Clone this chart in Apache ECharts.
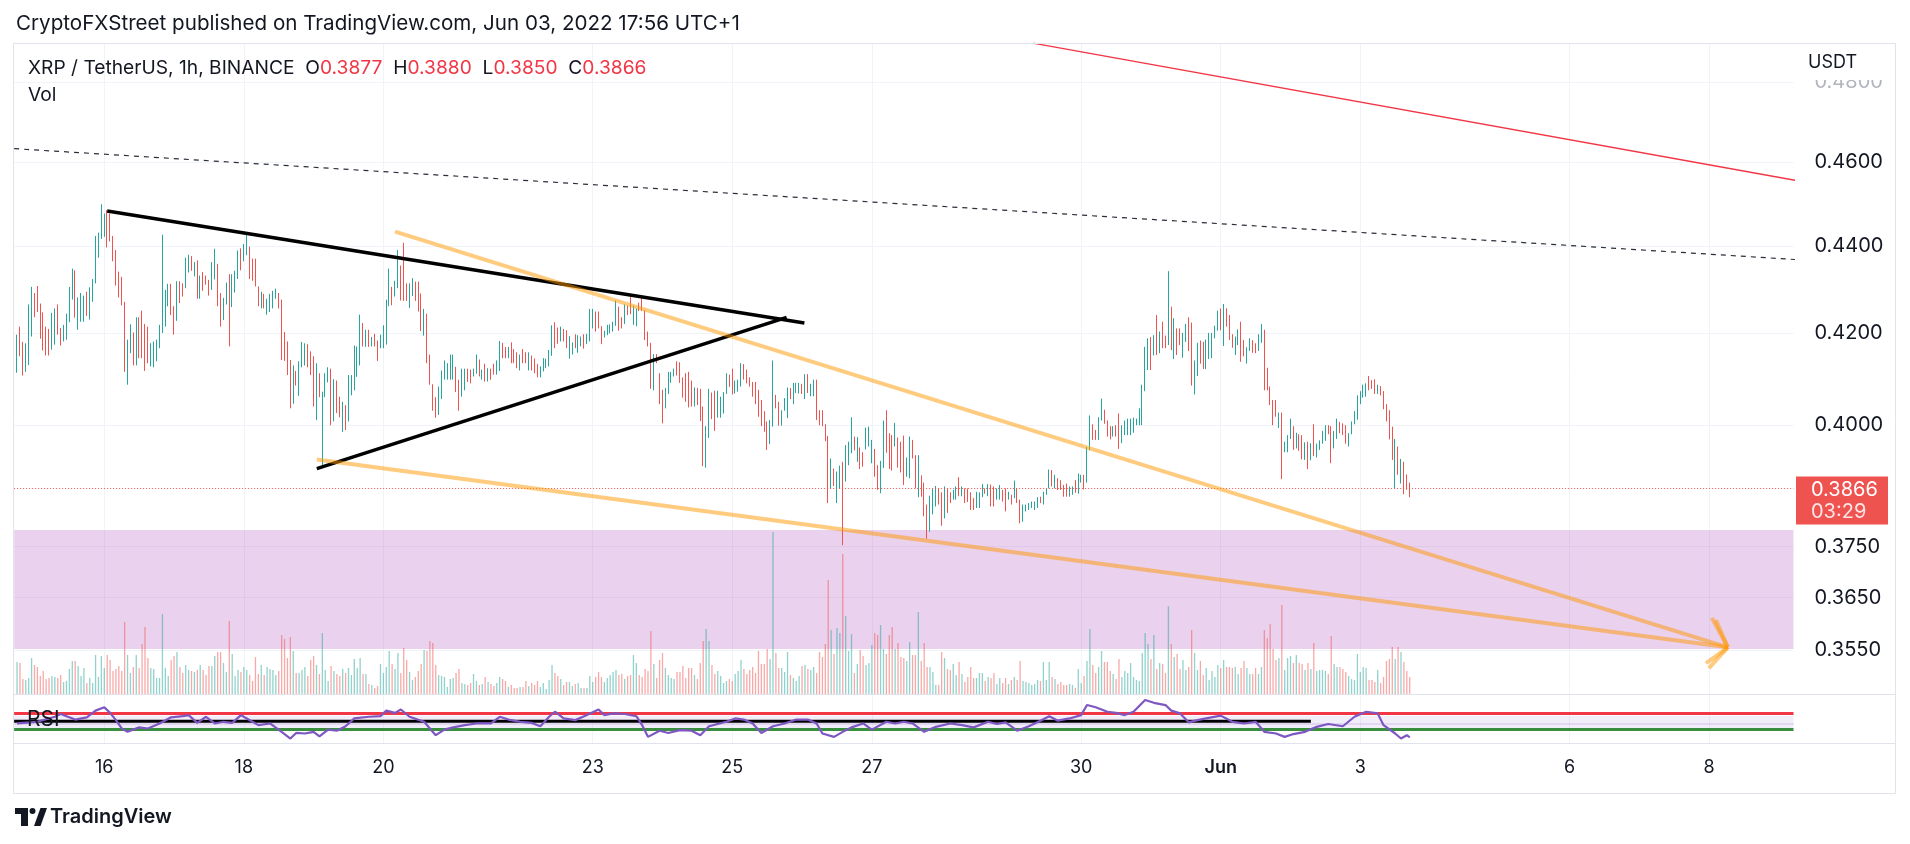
<!DOCTYPE html>
<html>
<head>
<meta charset="utf-8">
<title>XRP / TetherUS, 1h, BINANCE</title>
<script src="https://cdn.jsdelivr.net/npm/echarts@6.0.0/dist/echarts.min.js"></script>
<style>
  html, body { margin: 0; padding: 0; background: #ffffff; }
  #chart { width: 1910px; height: 844px; }
</style>
</head>
<body>
<div id="chart"></div>
<script>
// ---- data ----
// hourly bars (UTC+1), price in 1e-4 USDT as [open, close]; at this zoom a bar is one line open..close
// 2022-05-14 18:00 .. 05-20 06:00
const barsMay14to20 = [
  [4113,4197],[4215,4149],[4181,4107],[4115,4178],[4130,4265],[4193,4305],[4291,4236],[4307,4248],[4267,4188],[4247,4162],
  [4215,4151],[4210,4151],[4164,4246],[4175,4256],[4265,4197],[4212,4173],[4182,4219],[4186,4244],[4225,4305],[4276,4347],
  [4343,4235],[4208,4281],[4226,4291],[4226,4285],[4294,4239],[4231,4304],[4271,4323],[4313,4423],[4372,4431],[4416,4498],
  [4421,4476],[4484,4396],[4476,4410],[4423,4364],[4390,4308],[4340,4281],[4328,4263],[4271,4115],[4087,4186],[4156,4220],
  [4202,4129],[4129,4236],[4236,4145],[4251,4145],[4221,4117],[4215,4134],[4127,4178],[4125,4182],[4138,4186],[4167,4219],
  [4201,4426],[4215,4298],[4261,4312],[4312,4241],[4261,4197],[4228,4318],[4318,4268],[4313,4283],[4302,4372],[4338,4379],
  [4376,4342],[4329,4362],[4366,4278],[4278,4331],[4339,4296],[4331,4310],[4321,4285],[4298,4362],[4322,4393],[4358,4261],
  [4291,4215],[4230,4280],[4265,4315],[4334,4171],[4259,4334],[4292,4342],[4323,4389],[4394,4343],[4364,4404],[4378,4429],
  [4398,4323],[4370,4319],[4370,4306],[4306,4261],[4256,4294],[4289,4256],[4242,4278],[4248,4289],[4256,4296],[4278,4301],
  [4291,4256],[4276,4141],[4203,4139],[4182,4108],[4141,4036],[4046,4129],[4117,4085],[4063,4138],[4125,4181],[4129,4178],
  [4176,4125],[4160,4108],[4149,4040],[4011,4134],[4112,4060],[3912,4072],[4060,4112],[4092,4125],[4122,4000],[4008,4099],
  [4096,4026],[4061,4017],[3986,4050],[4043,3990],[4008,4108],[4064,4108],[4075,4173],[4104,4171],[4129,4242],[4223,4171],
  [4170,4208],[4208,4170],[4171,4192],[4199,4171],[4184,4139],[4167,4197],[4167,4218],[4175,4276],[4261,4347],[4305,4263],
  [4283,4319],[4302,4390],[4354,4274]
];
// 05-20 07:00 .. 05-26 05:00
const barsMay20to26 = [
  [4407,4273],[4313,4273],[4257,4313],[4284,4325],[4317,4273],[4317,4249],[4290,4205],[4195,4255],[4244,4134],[4153,4087],
  [4088,4031],[4060,4016],[4022,4083],[4056,4118],[4098,4140],[4098,4134],[4098,4153],[4098,4153],[4126,4071],[4098,4031],
  [4061,4122],[4075,4122],[4122,4093],[4120,4090],[4105,4122],[4111,4153],[4142,4105],[4098,4120],[4133,4094],[4094,4123],
  [4122,4098],[4133,4109],[4109,4140],[4117,4183],[4179,4145],[4170,4145],[4145,4170],[4180,4134],[4165,4134],[4158,4123],
  [4118,4153],[4165,4134],[4158,4134],[4118,4158],[4151,4118],[4144,4112],[4132,4103],[4103,4127],[4116,4145],[4123,4144],
  [4127,4163],[4150,4218],[4225,4167],[4213,4177],[4182,4215],[4210,4182],[4207,4167],[4144,4194],[4153,4180],[4198,4167],
  [4157,4196],[4171,4193],[4198,4166],[4176,4199],[4182,4255],[4211,4255],[4249,4204],[4249,4211],[4216,4176],[4191,4206],
  [4196,4219],[4200,4220],[4204,4226],[4217,4274],[4260,4206],[4236,4211],[4221,4265],[4262,4241],[4286,4243],[4219,4262],
  [4216,4256],[4269,4250],[4285,4250],[4252,4185],[4204,4171],[4179,4078],[4075,4154],[4154,4134],[4112,4045],[4076,4004],
  [4036,4080],[4067,4115],[4091,4115],[4105,4122],[4138,4107],[4136,4091],[4103,4059],[4112,4050],[4115,4038],[4096,4040],
  [4040,4081],[4080,4043],[4078,4009],[4040,3914],[3911,3998],[3973,4078],[4070,4013],[4074,3988],[4016,4074],[4016,4061],
  [4025,4071],[4067,4112],[4109,4082],[4122,4066],[4068,4096],[4072,4098],[4083,4134],[4132,4098],[4120,4090],[4103,4083],
  [4093,4061],[4093,4045],[4076,4018],[4054,3998],[4030,3986],[4008,3948],[3960,4011],[3997,4140],[4065,4036],[4050,3999],
  [3999,4032],[4031,4058],[4015,4081],[4080,4056],[4045,4091],[4069,4091],[4068,4091],[4089,4067],[4056,4110],[4110,4069],
  [4062,4089],[4062,4098],[4098,4011]
];
// 05-26 06:00 .. 05-31 09:00
const barsMay26to31 = [
  [4032,4000],[4032,3998],[4002,3966],[3977,3838],[3868,3930],[3909,3873],[3838,3903],[3868,3915],[3923,3753],[3882,3958],
  [3916,3965],[3941,4017],[3976,3947],[3923,3975],[3953,3908],[3943,3913],[3949,3995],[3955,3997],[3920,3969],[3950,3892],
  [3916,3865],[3858,3925],[3910,4010],[4032,3942],[3983,3908],[3979,3905],[3955,4005],[3974,3911],[3965,3901],[3978,3875],
  [3892,3932],[3889,3976],[3969,3930],[3937,3868],[3850,3937],[3895,3851],[3880,3811],[3835,3766],[3780,3853],[3815,3868],
  [3831,3873],[3868,3835],[3860,3792],[3807,3872],[3868,3818],[3860,3838],[3845,3865],[3845,3872],[3891,3852],[3852,3872],
  [3868,3838],[3868,3840],[3860,3824],[3848,3824],[3828,3861],[3828,3860],[3850,3877],[3868,3857],[3852,3877],[3876,3831],
  [3872,3831],[3845,3868],[3845,3875],[3865,3841],[3868,3821],[3845,3861],[3855,3835],[3848,3884],[3868,3838],
  [3845,3797],[3800,3835],[3821,3835],[3824,3838],[3828,3841],[3824,3841],[3828,3850],[3851,3838],[3835,3861],[3855,3868],
  [3868,3907],[3906,3872],[3868,3896],[3889,3865],[3885,3865],[3875,3851],[3878,3851],[3851,3872],[3855,3872],[3885,3859],
  [3857,3899],[3880,3896],[3896,3866],[3880,3954],[3947,4021],[4002,3969],[3990,3969],[3969,4017],[4010,4057],[4033,4003],
  [4010,3976],[3998,3970],[3976,3998],[4000,3976],[4025,3950],[3962,4000],[3979,4010],[3979,4014],[3979,4014],[3984,4016],
  [4000,4014],[4000,4036],[4000,4087],[4073,4170],[4119,4189],[4192,4119],[4151,4196],[4241,4152],[4156,4204],[4226,4167],
  [4195,4167],[4174,4341],[4260,4163],[4143,4234],[4211,4152]
];
// 05-31 10:00 .. 06-03 16:00
const barsMay31toJun3 = [
  [4211,4174],[4146,4201],[4181,4221],[4236,4161],[4224,4085],[4066,4140],[4106,4179],[4184,4133],[4181,4121],[4121,4186],
  [4143,4201],[4145,4201],[4189,4217],[4206,4251],[4256,4207],[4172,4266],[4256,4215],[4241,4185],[4198,4168],[4152,4193],
  [4174,4209],[4226,4137],[4185,4149],[4133,4169],[4161,4189],[4185,4157],[4178,4156],[4161,4198],[4179,4221],[4208,4075],
  [4124,4075],[4083,4043],[4054,4000],[4054,4018],[3994,4027],[4027,3887],[3943,3965],[3943,3979],[3971,4014],[3998,3948],
  [3951,3984],[3981,3946],[3979,3928],[3927,3964],[3965,3908],[3926,3962],[4002,3935],[3932,3961],[3948,3968],[3961,3988],
  [3967,4000],[4000,3981],[3998,3920],[3951,3988],[3971,4014],[4007,3983],[4004,3979],[4000,3961],[3955,3983],[3981,4008],
  [4002,4030],[4012,4064],[4045,4073],[4059,4087],[4061,4090],[4106,4075],[4097,4078],[4099,4067],[4067,4087],[4084,4064],
  [4073,4034],[4045,4008],[4032,3970],[3997,3927],[3868,3971],[3955,3896],[3878,3929],[3923,3856],[3897,3865]
];
// 06-03 17:00, the live bar: open, close, low, high
const lastBar = [0.3877, 0.3866, 0.3850, 0.3880];

// hourly volume, millions of XRP, same bars
const volMay14to24 = [
  32,31,15,14,16,36,29,27,18,23, 15,16,18,17,16,19,12,13,25,33, 33,28,18,26,11,16,11,39,17,38,
  26,39,34,23,25,28,23,72,39,21, 27,39,26,50,67,36,26,25,16,16, 80,26,18,34,38,42,27,21,29,24,
  23,22,24,29,24,19,28,28,38,42, 42,31,22,73,40,18,24,22,27,24, 19,13,37,20,29,19,27,25,24,19,
  23,59,55,36,57,43,21,21,24,27, 18,34,38,29,20,61,24,13,28,23, 20,18,25,21,26,19,35,26,36,20,
  20,10,9,6,8,30,21,27,43,30, 25,41,21,46,34,22,14,17,23,30, 44,43,53,51,29,19,18,17,7,15,
  16,21,25,11,10,9,11,20,13,9, 10,17,12,10,8,11,17,15,13,7, 9,6,6,7,7,13,8,11,9,13,
  7,11,5,14,29,21,18,15,9,12, 12,8,10,11,6,6,6,18,12,17, 22,17,12,16,19,22,24,19,20,15,
  18,19,39,31,19,17,25,23,63,30, 16,34,41,26,19,16,15,22,22,28, 16,26,26,19,15,31,53,65,53,29,
  20,23
];
const volMay24toJun3 = [
  18,11,13,15,13,20,23,34,25,20, 24,27,21,43,30,30,45,35,162,41, 26,26,22,42,19,16,13,18,28,29,
  25,24,27,21,42,37,50,114,64,40, 66,61,140,78,43,60,21,30,44,38, 29,31,49,61,59,69,45,40,59,67,
  45,51,37,36,33,52,39,39,82,33, 51,27,27,22,9,9,42,36,25,24, 30,19,32,20,12,17,27,16,16,21,
  21,13,17,16,21,10,16,11,16,10, 14,17,14,33,13,12,11,9,10,14, 13,32,14,32,17,15,10,12,9,9,
  10,9,6,25,11,18,33,65,29,21, 27,43,32,32,23,20,15,35,17,23, 21,31,17,14,13,41,61,50,35,59,
  25,31,30,21,88,50,37,40,25,34, 24,27,64,41,24,33,19,26,14,23, 17,29,26,34,27,27,26,27,20,26,
  33,26,20,20,26,20,27,64,56,70, 45,34,36,89,24,36,38,31,39,31, 30,24,31,25,51,23,24,24,23,20,
  58,30,27,27,25,22,18,15,14,40, 22,27,26,14,14,12,24,11,17,33, 35,47,35,47,42,32,23,17
];

// RSI points as [hour slot, value]
const rsiPoints = [
  [1,46],[8,49],[14,58],[16,63],[18,59],[21,53],[25,57],[28,69],[31,75],[33,65],[35,52],[37,37],[39,31],[43,39],
  [46,37],[50,46],[54,57],[58,59],[60,61],[63,47],[66,58],[69,46],[72,49],[75,47],[78,61],[80,55],[84,43],[88,46],
  [92,31],[95,19],[97,29],[100,28],[103,31],[105,23],[108,35],[111,33],[114,41],[117,55],[122,58],[126,59],[128,69],
  [131,65],[133,71],[136,58],[141,49],[145,25],[148,35],[151,39],[155,43],[159,46],[164,46],[167,58],[170,53],[174,49],
  [178,47],[181,41],[184,58],[186,67],[189,55],[193,52],[197,61],[201,71],[203,61],[206,64],[210,63],[214,59],[216,43],
  [218,22],[222,33],[225,29],[229,34],[233,33],[236,25],[239,41],[245,49],[248,55],[251,53],[254,46],[257,29],[261,41],
  [265,46],[269,53],[273,53],[276,46],[278,28],[282,22],[285,31],[288,39],[292,46],[295,35],[300,49],[303,46],[306,49],
  [309,46],[313,31],[317,40],[322,46],[326,43],[330,39],[335,49],[338,45],[341,48],[345,33],[349,41],[353,51],[356,59],
  [359,51],[363,55],[367,61],[369,79],[372,75],[376,67],[379,65],[382,61],[385,67],[389,88],[392,83],[396,79],[398,69],
  [401,64],[404,48],[407,52],[410,55],[415,60],[419,49],[423,46],[427,49],[430,31],[434,28],[437,22],[440,27],[444,31],
  [448,40],[452,45],[457,41],[461,58],[465,67],[469,64],[471,43],[475,28],[477,19],[479,25],[480,21]
];
const rsiUpperLine = 64, rsiLowerLine = 35, rsiMidLine = 46, rsiBand = [35, 60];
const rsiBlackSeg = [[0, 50], [446, 50]];

// drawings, [hour slot, price]
const redTrend = [[350.4, 0.4900], [612.5, 0.4556]];
const dashTrend = [[0, 0.4633], [612.5, 0.4368]];
const triUpper = [[32.0, 0.4482], [271.8, 0.4223]];
const triLower = [[104.1, 0.3909], [265.7, 0.4236]];
const wedgeUpper = [[131.0, 0.4433], [589.4, 0.3555]];
const wedgeLower = [[104.1, 0.3928], [589.4, 0.3555]];
const arrowWings = [
  [[583.9, 0.3611], [589.4, 0.3555]],
  [[585.3, 0.3607], [589.4, 0.3555]],
  [[581.9, 0.3525], [589.4, 0.3555]],
  [[582.9, 0.3516], [589.4, 0.3555]]
];
const zone = [0.37835, 0.35517];
const lastPrice = 0.3866, countdown = '03:29';

// axes
const priceTicks = [0.48, 0.46, 0.44, 0.42, 0.40, 0.375, 0.365, 0.355];
const priceRange = [0.34679, 0.49003];
const tickDates = ['2022-05-16','2022-05-18','2022-05-20','2022-05-23','2022-05-25','2022-05-27',
                   '2022-05-30','2022-06-01','2022-06-03','2022-06-06','2022-06-08'];
const tickLabels = ['16','18','20','23','25','27','30','Jun','3','6','8'];

// ---- chart ----
const FONT = 'Inter, "Noto Sans", Roboto, sans-serif';
const INK = '#131722';
const L = Math.log;
const SLOTS = 613;
const PLOT_L = 14.15, PLOT_R = 116.5;

const t0 = Date.UTC(2022, 4, 14, 17);
const categories = Array.from({ length: SLOTS }, (_, i) =>
  new Date(t0 + i * 3600e3).toISOString().slice(0, 16).replace('T', ' '));
const tickMap = {};
tickDates.forEach((d, i) => { tickMap[d + ' 00:00'] = tickLabels[i]; });
const isTick = (i, v) => tickMap[v] !== undefined;

const ohlc = [].concat(barsMay14to20, barsMay20to26, barsMay26to31, barsMay31toJun3)
  .map(([o, c]) => [o / 1e4, c / 1e4, Math.min(o, c) / 1e4, Math.max(o, c) / 1e4])
  .concat([lastBar]);
const candleData = ['-'].concat(ohlc.map(b => b.map(L)));
const vols = volMay14to24.concat(volMay24toJun3);
const volData = ['-'].concat(vols.map((v, i) => ({
  value: v,
  itemStyle: { color: ohlc[i][1] >= ohlc[i][0] ? 'rgba(38,166,154,0.5)' : 'rgba(239,83,80,0.5)' }
})));

const drawLine = (pts, color, width, type, z) => ({
  type: 'line', xAxisIndex: 2, yAxisIndex: 0, silent: true, z,
  data: pts.map(([s, p]) => [s, L(p)]),
  symbol: 'none', lineStyle: { color, width, type }
});
const ORANGE = 'rgba(255,152,0,0.5)';

const chart = echarts.init(document.getElementById('chart'));

chart.setOption({
  animation: false,
  backgroundColor: '#ffffff',
  grid: [
    { left: PLOT_L, right: PLOT_R, top: 43, height: 651 },
    { left: PLOT_L, right: PLOT_R, top: 695, height: 48 }
  ],
  xAxis: [
    {
      type: 'category', gridIndex: 0, data: categories, boundaryGap: false,
      axisLine: { show: false }, axisTick: { show: false }, axisLabel: { show: false },
      splitLine: { show: true, interval: isTick, lineStyle: { color: '#F0F3FA' } }
    },
    {
      type: 'category', gridIndex: 1, data: categories, boundaryGap: false,
      axisLine: { show: false }, axisTick: { show: false },
      axisLabel: {
        interval: isTick, margin: 16, color: INK, fontSize: 18, fontFamily: FONT,
        formatter: v => tickMap[v] === 'Jun' ? '{b|Jun}' : tickMap[v],
        rich: { b: { fontWeight: 600, fontSize: 18, fontFamily: FONT, color: INK } }
      },
      splitLine: { show: true, interval: isTick, lineStyle: { color: '#F0F3FA' } }
    },
    { type: 'value', gridIndex: 0, min: 0, max: SLOTS - 1, show: false }
  ],
  yAxis: [
    {
      type: 'value', gridIndex: 0, position: 'right',
      min: L(priceRange[0]), max: L(priceRange[1]),
      axisLine: { show: false },
      axisTick: { show: false, customValues: priceTicks.map(L) },
      axisLabel: {
        customValues: priceTicks.map(L), margin: 21, color: INK, fontSize: 20, fontFamily: FONT,
        formatter: v => {
          const p = Math.exp(v);
          const s = p.toFixed(4);
          return Math.abs(p - 0.48) < 1e-6 ? '{f|' + s + '}' : s;
        },
        rich: { f: { color: '#B2B5BE', fontSize: 20, fontFamily: FONT } }
      },
      splitLine: { show: true, lineStyle: { color: '#F0F3FA' } }
    },
    { type: 'value', gridIndex: 0, min: 0, max: 651, show: false },
    { type: 'value', gridIndex: 1, min: 11, max: 97, show: false }
  ],
  series: [
    {
      type: 'line', xAxisIndex: 2, yAxisIndex: 0, data: [], silent: true, z: 1,
      markArea: {
        silent: true, itemStyle: { color: 'rgba(171,71,188,0.25)' },
        data: [[{ yAxis: L(zone[0]) }, { yAxis: L(zone[1]) }]]
      }
    },
    {
      type: 'bar', xAxisIndex: 0, yAxisIndex: 1, data: volData, barWidth: 1.3, silent: true, z: 2
    },
    {
      type: 'candlestick', xAxisIndex: 0, yAxisIndex: 0, data: candleData, barWidth: 0.3, silent: true, z: 3,
      itemStyle: { color: '#26A69A', color0: '#EF5350', borderColor: '#26A69A', borderColor0: '#EF5350', borderWidth: 1 },
      markLine: {
        silent: true, symbol: 'none', label: { show: false },
        lineStyle: { color: '#EF5350', type: [1, 2], width: 1 },
        data: [{ yAxis: L(lastPrice) }]
      }
    },
    drawLine(dashTrend, '#2A2E39', 1.2, [5, 5], 4),
    drawLine(redTrend, '#F23645', 1.5, 'solid', 4),
    drawLine(triUpper, '#000000', 3.5, 'solid', 5),
    drawLine(triLower, '#000000', 3.5, 'solid', 5),
    drawLine(wedgeUpper, ORANGE, 4, 'solid', 6),
    drawLine(wedgeLower, ORANGE, 4, 'solid', 6),
    ...arrowWings.map(w => drawLine(w, ORANGE, 4, 'solid', 6)),
    {
      type: 'line', xAxisIndex: 1, yAxisIndex: 2, data: rsiBlackSeg, symbol: 'none', silent: true, z: 4,
      lineStyle: { color: '#000000', width: 3 }
    },
    {
      type: 'line', xAxisIndex: 1, yAxisIndex: 2, data: rsiPoints, symbol: 'none', silent: true, z: 5,
      lineStyle: { color: '#7E57C2', width: 2.2 },
      markArea: {
        silent: true, itemStyle: { color: 'rgba(126,87,194,0.1)' },
        data: [[{ yAxis: rsiBand[0] }, { yAxis: rsiBand[1] }]]
      },
      markLine: {
        silent: true, symbol: 'none', label: { show: false },
        data: [
          { yAxis: rsiMidLine, lineStyle: { color: 'rgba(126,87,194,0.15)', width: 2, type: 'solid' } },
          { yAxis: rsiUpperLine, lineStyle: { color: '#F23645', width: 3, type: 'solid' } },
          { yAxis: rsiLowerLine, lineStyle: { color: '#388E3C', width: 3, type: 'solid' } }
        ]
      }
    }
  ]
});

// labels, frame and price tag
const yLast = chart.convertToPixel({ yAxisIndex: 0 }, L(lastPrice));
const txt = (x, y, text, size, extra) => ({
  type: 'text', x, y, silent: true, z: 100,
  style: Object.assign({ text, fill: INK, fontSize: size, fontFamily: FONT, verticalAlign: 'middle' }, extra || {})
});
const stroke = { stroke: '#E0E3EB', lineWidth: 1 };

chart.setOption({
  graphic: [
    { type: 'rect', z: 90, silent: true, shape: { x: 13.5, y: 43.5, width: 1882, height: 750 }, style: Object.assign({ fill: 'none' }, stroke) },
    { type: 'line', z: 90, silent: true, shape: { x1: 13.5, y1: 694.5, x2: 1895.5, y2: 694.5 }, style: stroke },
    { type: 'line', z: 90, silent: true, shape: { x1: 13.5, y1: 743.5, x2: 1895.5, y2: 743.5 }, style: stroke },
    txt(16, 24, 'CryptoFXStreet published on TradingView.com, Jun 03, 2022 17:56 UTC+1', 20.6),
    txt(28, 68, '{k|XRP / TetherUS, 1h, BINANCE}  {k|O}{r|0.3877}  {k|H}{r|0.3880}  {k|L}{r|0.3850}  {k|C}{r|0.3866}', 19.2, {
      rich: {
        k: { fill: INK, fontSize: 19.2, fontFamily: FONT },
        r: { fill: '#F23645', fontSize: 19.2, fontFamily: FONT }
      }
    }),
    txt(28, 95, 'Vol', 19.2),
    txt(27, 720, 'RSI', 21),
    { type: 'rect', z: 95, silent: true, shape: { x: 1796, y: 44, width: 97, height: 36 }, style: { fill: '#ffffff' } },
    txt(1808, 63, 'USDT', 18),
    { type: 'rect', z: 95, silent: true, shape: { x: 1796, y: yLast - 13, width: 92, height: 48 }, style: { fill: '#EF5350' } },
    txt(1811, yLast + 1, lastPrice.toFixed(4), 20, { fill: '#ffffff' }),
    txt(1811, yLast + 23, countdown, 20, { fill: 'rgba(255,255,255,0.85)' }),
    // TradingView mark
    { type: 'rect', z: 100, silent: true, shape: { x: 15, y: 808, width: 13, height: 6 }, style: { fill: INK } },
    { type: 'rect', z: 100, silent: true, shape: { x: 21, y: 808, width: 7, height: 18 }, style: { fill: INK } },
    { type: 'circle', z: 100, silent: true, shape: { cx: 32.5, cy: 811, r: 3 }, style: { fill: INK } },
    { type: 'polygon', z: 100, silent: true, shape: { points: [[34, 826], [40.5, 808], [47, 808], [40.5, 826]] }, style: { fill: INK } },
    txt(50, 817, 'TradingView', 20, { fontWeight: 600 })
  ]
});
</script>
</body>
</html>
